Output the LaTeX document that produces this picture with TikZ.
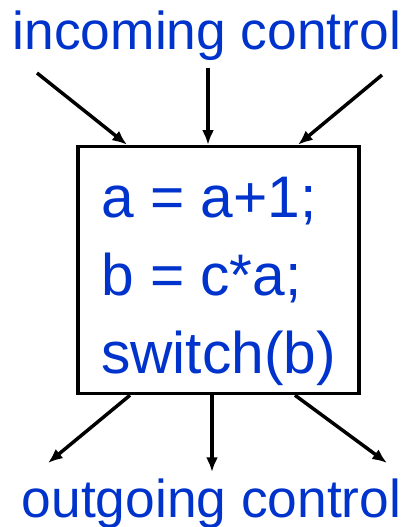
\documentclass[tikz,border=0pt]{standalone}
\usepackage{fontspec}
\setmainfont{Liberation Sans}
\usepackage{xcolor}
\usepackage{tikz}
\usetikzlibrary{arrows.meta, calc}
\definecolor{cfblue}{HTML}{0033CC}

\begin{document}
\begin{tikzpicture}[x=0.75pt, y=-0.75pt]
  \tikzset{
    label/.style={text=cfblue, font=\fontsize{40}{48}\selectfont, anchor=base, inner sep=0pt},
    block/.style={draw, line width=2.6pt, minimum width=210.75pt, minimum height=185.25pt,
      text=cfblue, font=\fontsize{44}{58.5}\selectfont, align=left, inner sep=0pt},
    flow/.style={-{Latex[length=11pt, width=9pt]}, line width=2.6pt},
  }
  \useasboundingbox (0,0) rectangle (407,527);
  \node[label] (incoming) at (207,50) {incoming control};
  \node[label] (outgoing) at (211.5,517) {outgoing control};
  \node[block] (block) at (218.5,270)
    {\rule{0pt}{48pt}a = a+1;\\b = c*a;\\switch(b)};

  % incoming edges
  \coordinate (inA) at (37,73);
  \coordinate (inB) at (208,68);
  \coordinate (inC) at (382,75);
  \draw[flow] (inA) -- ($(block.north)+(-91.5,0)$);
  \draw[flow] (inB) -- ($(block.north)+(-10.5,0)$);
  \draw[flow] (inC) -- ($(block.north)+(79.5,0)$);

  % outgoing edges
  \coordinate (outA) at (48,463);
  \coordinate (outB) at (212,472);
  \coordinate (outC) at (387,463);
  \draw[flow] ($(block.south)+(-88.5,0)$) -- (outA);
  \draw[flow] ($(block.south)+(-6.5,0)$) -- (outB);
  \draw[flow] ($(block.south)+(76.5,0)$) -- (outC);
\end{tikzpicture}
\end{document}
